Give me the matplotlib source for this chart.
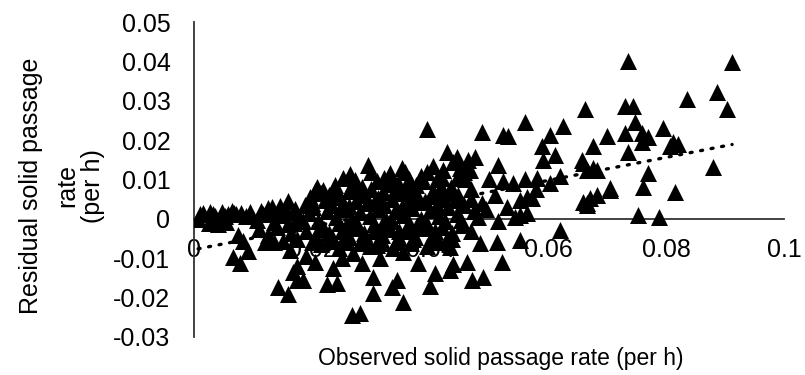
import matplotlib.pyplot as plt
import numpy as np

plt.rcParams['font.family'] = ['Liberation Sans', 'DejaVu Sans']

# observed solid passage rate (per h), residual (per h)
obs_left = [0.0007, 0.0010, 0.0027, 0.0035, 0.0047, 0.0058, 0.0065, 0.0072, 0.0080, 0.0025, 0.0040,
            0.0055, 0.0088, 0.0075, 0.0083, 0.0092, 0.0066, 0.0078,
            0.0015, 0.0032, 0.0052, 0.0068, 0.0095, 0.0113, 0.0128, 0.0152, 0.0172]
res_left = [0.0000, 0.0012, 0.0018, 0.0008, 0.0018, 0.0013, 0.0020, 0.0012, 0.0016, -0.0010, -0.0012,
            -0.0008, 0.0008, -0.0041, -0.0056, -0.0082, -0.0097, -0.0113,
            0.0015, 0.0012, 0.0008, 0.0015, 0.0018, 0.0020, 0.0015, 0.0022, 0.0020]

obs_mid = [0.0107, 0.0117, 0.0146, 0.0158, 0.0180, 0.0110, 0.0125, 0.0140, 0.0150, 0.0165, 0.0132,
           0.0120, 0.0170, 0.0188, 0.0160,
           0.0208, 0.0219, 0.0239, 0.0273, 0.0295, 0.0332, 0.0358, 0.0395, 0.0376, 0.0253, 0.0310,
           0.0345, 0.0422, 0.0439, 0.0429, 0.0395, 0.0412, 0.0285, 0.0228, 0.0197,
           0.0200, 0.0215, 0.0232, 0.0248, 0.0262, 0.0275, 0.0290, 0.0305, 0.0320, 0.0335, 0.0350,
           0.0362, 0.0378, 0.0392, 0.0405, 0.0420, 0.0435, 0.0448, 0.0460, 0.0470,
           0.0195, 0.0210, 0.0225, 0.0240, 0.0255, 0.0268, 0.0282, 0.0298, 0.0312, 0.0326, 0.0340,
           0.0355, 0.0370, 0.0385, 0.0400, 0.0415, 0.0430, 0.0445, 0.0458, 0.0475, 0.0488,
           0.0190, 0.0205, 0.0220, 0.0235, 0.0250, 0.0262, 0.0278, 0.0292, 0.0305, 0.0318, 0.0332,
           0.0347, 0.0362, 0.0375, 0.0390, 0.0405, 0.0420, 0.0438, 0.0455, 0.0470,
           0.0215, 0.0245, 0.0258, 0.0270, 0.0285, 0.0298, 0.0310, 0.0320, 0.0338, 0.0354, 0.0368,
           0.0395, 0.0415, 0.0434,
           0.0205, 0.0238, 0.0268, 0.0300, 0.0328, 0.0360, 0.0388, 0.0418, 0.0445,
           0.0265, 0.0300, 0.0322, 0.0352, 0.0385, 0.0405, 0.0450, 0.0468,
           0.0125, 0.0145, 0.0172, 0.0202, 0.0232, 0.0262, 0.0293, 0.0322, 0.0352, 0.0382, 0.0412,
           0.0442, 0.0470,
           0.0135, 0.0160, 0.0185, 0.0215, 0.0245, 0.0275, 0.0305, 0.0335, 0.0365, 0.0395, 0.0425,
           0.0452, 0.0482,
           0.0135, 0.0175, 0.0200, 0.0228, 0.0255, 0.0282, 0.0312, 0.0342, 0.0372, 0.0402, 0.0428,
           0.0228, 0.0258, 0.0288, 0.0318, 0.0348, 0.0378, 0.0408, 0.0438,
           0.0222, 0.0252, 0.0282, 0.0312, 0.0342, 0.0372, 0.0402, 0.0432,
           0.0240, 0.0330, 0.0365, 0.0420]
res_mid = [-0.0003, 0.0013, 0.0010, 0.0018, 0.0000, -0.0025, -0.0040, -0.0020, -0.0055, -0.0035, 0.0030,
           -0.0060, -0.0010, 0.0035, 0.0045,
           0.0082, 0.0074, 0.0087, 0.0099, 0.0138, 0.0117, 0.0120, 0.0120, 0.0087, 0.0105, 0.0095,
           0.0090, 0.0125, 0.0145, 0.0171, 0.0227, 0.0100, 0.0080, 0.0060, 0.0055,
           0.0040, 0.0065, 0.0035, 0.0055, 0.0070, 0.0045, 0.0060, 0.0040, 0.0068, 0.0050, 0.0065,
           0.0042, 0.0060, 0.0045, 0.0070, 0.0050, 0.0080, 0.0060, 0.0100, 0.0075,
           0.0015, -0.0005, 0.0020, 0.0005, 0.0025, 0.0000, 0.0018, 0.0008, 0.0025, -0.0002, 0.0020,
           0.0010, 0.0028, 0.0000, 0.0022, 0.0008, 0.0030, 0.0012, 0.0035, 0.0020, 0.0040,
           -0.0030, -0.0045, -0.0025, -0.0050, -0.0030, -0.0045, -0.0022, -0.0050, -0.0030, -0.0042, -0.0025,
           -0.0048, -0.0030, -0.0045, -0.0022, -0.0040, -0.0020, -0.0035, -0.0015, -0.0030,
           -0.0065, -0.0075, -0.0060, -0.0087, -0.0112, -0.0068, -0.0066, -0.0061, -0.0075, -0.0084, -0.0062,
           -0.0070, -0.0058, -0.0071,
           0.0072, 0.0078, 0.0085, 0.0075, 0.0088, 0.0080, 0.0095, 0.0082, 0.0105,
           0.0115, 0.0120, 0.0105, 0.0130, 0.0110, 0.0135, 0.0130, 0.0125,
           0.0028, 0.0032, 0.0025, 0.0030, 0.0038, 0.0032, 0.0040, 0.0035, 0.0030, 0.0042, 0.0036,
           0.0048, 0.0050,
           -0.0008, -0.0012, -0.0005, -0.0015, -0.0010, -0.0008, -0.0012, -0.0006, -0.0010, -0.0014, -0.0005,
           -0.0002, 0.0005,
           -0.0058, -0.0052, -0.0060, -0.0056, -0.0052, -0.0062, -0.0055, -0.0058, -0.0052, -0.0060, -0.0050,
           -0.0035, -0.0018, -0.0035, -0.0015, -0.0032, -0.0015, -0.0030, -0.0050,
           0.0048, 0.0040, 0.0062, 0.0052, 0.0078, 0.0072, 0.0058, 0.0065,
           0.0065, 0.0100, 0.0100, 0.0105]

obs_low = [0.0142, 0.0160, 0.0175, 0.0185, 0.0168, 0.0175, 0.0225, 0.0242, 0.0236, 0.0190, 0.0205,
           0.0163, 0.0303, 0.0303, 0.0344, 0.0336, 0.0354, 0.0268, 0.0281, 0.0380, 0.0408, 0.0400,
           0.0434, 0.0439, 0.0463, 0.0522, 0.0471, 0.0490, 0.0514, 0.0485, 0.0553, 0.0620, 0.0315,
           0.0250]
res_low = [-0.0173, -0.0190, -0.0156, -0.0156, -0.0135, -0.0120, -0.0165, -0.0163, -0.0125, -0.0095, -0.0110,
           -0.0080, -0.0148, -0.0189, -0.0156, -0.0173, -0.0212, -0.0245, -0.0238, -0.0112, -0.0138, -0.0170,
           -0.0130, -0.0115, -0.0110, -0.0110, -0.0156, -0.0148, -0.0059, -0.0061, -0.0054, -0.0028, -0.0100,
           -0.0100]

obs_upper = [0.0488, 0.0524, 0.0532, 0.0561, 0.0625, 0.0603, 0.0663, 0.0590, 0.0612, 0.0592, 0.0515,
             0.0476, 0.0446, 0.0464, 0.0581, 0.0561, 0.0541, 0.0524, 0.0620, 0.0603, 0.0659, 0.0658,
             0.0659, 0.0564, 0.0573, 0.0553, 0.0564, 0.0553, 0.0544, 0.0666, 0.0683, 0.0705, 0.0500,
             0.0510, 0.0495, 0.0530, 0.0515, 0.0457, 0.0580]
res_upper = [0.0220, 0.0214, 0.0210, 0.0247, 0.0235, 0.0214, 0.0278, 0.0184, 0.0163, 0.0150, 0.0138,
             0.0158, 0.0156, 0.0150, 0.0105, 0.0100, 0.0092, 0.0095, 0.0110, 0.0092, 0.0143, 0.0150,
             0.0043, 0.0056, 0.0054, 0.0048, 0.0015, 0.0010, 0.0005, 0.0040, 0.0061, 0.0074, 0.0100,
             0.0060, 0.0025, 0.0030, -0.0005, 0.0120, 0.0075]

obs_right = [0.0736, 0.0912, 0.0886, 0.0836, 0.0903, 0.0730, 0.0744, 0.0747, 0.0795, 0.0730, 0.0759,
             0.0769, 0.0700, 0.0676, 0.0736, 0.0760, 0.0812, 0.0820, 0.0807, 0.0676, 0.0683, 0.0666,
             0.0770, 0.0761, 0.0705, 0.0815, 0.0880, 0.0671, 0.0666, 0.0753, 0.0788]
res_right = [0.0400, 0.0398, 0.0321, 0.0304, 0.0278, 0.0286, 0.0286, 0.0245, 0.0232, 0.0219, 0.0219,
             0.0207, 0.0210, 0.0184, 0.0171, 0.0194, 0.0194, 0.0189, 0.0184, 0.0130, 0.0125, 0.0125,
             0.0117, 0.0082, 0.0079, 0.0069, 0.0133, 0.0054, 0.0036, 0.0010, 0.0005]

x_ticks = [0, 0.02, 0.04, 0.06, 0.08, 0.1]
x_labels = ['0', '0.02', '0.04', '0.06', '0.08', '0.1']
y_ticks = [-0.03, -0.02, -0.01, 0, 0.01, 0.02, 0.03, 0.04, 0.05]
y_labels = ['-0.03', '-0.02', '-0.01', '0', '0.01', '0.02', '0.03', '0.04', '0.05']

obs = np.array(obs_left + obs_mid + obs_low + obs_upper + obs_right)
resid = np.array(res_left + res_mid + res_low + res_upper + res_right)

fig = plt.figure(figsize=(8.05, 3.75), dpi=100)
ax = fig.add_axes([194 / 805, 1 - 337 / 375, 590 / 805, 315 / 375])
ax.set_xlim(0, 0.1)
ax.set_ylim(-0.03, 0.05)

ax.scatter(obs, resid, marker='^', s=150, color='black', linewidths=0, zorder=3)

# linear trend line over the data range
slope, intercept = np.polyfit(obs, resid, 1)
xs = np.array([obs.min(), obs.max()])
ax.plot(xs, slope * xs + intercept, color='black', linewidth=2.4,
        linestyle=(0, (0.6, 2.6)), dash_capstyle='round', zorder=4)

for side in ['top', 'right']:
    ax.spines[side].set_visible(False)
ax.spines['bottom'].set_position(('data', 0))
ax.spines['bottom'].set_zorder(1)
for side in ['bottom', 'left']:
    ax.spines[side].set_linewidth(1.3)
    ax.spines[side].set_color('#333333')

ax.set_xticks(x_ticks, x_labels)
ax.set_yticks(y_ticks, y_labels)
ax.tick_params(axis='x', length=0, labelsize=18, pad=14)
ax.tick_params(axis='y', length=0, labelsize=18, pad=17)

fig.text(0.622, 0.045, 'Observed solid passage rate (per h)', fontsize=16.5,
         ha='center', va='center')
fig.text(31 / 805, 0.505, 'Residual solid passage', fontsize=18,
         rotation=90, ha='center', va='center')
fig.text(67 / 805, 0.505, 'rate', fontsize=18, rotation=90, ha='center', va='center')
fig.text(93 / 805, 0.505, '(per h)', fontsize=18, rotation=90, ha='center', va='center')

fig.savefig('out.png', dpi=100)
